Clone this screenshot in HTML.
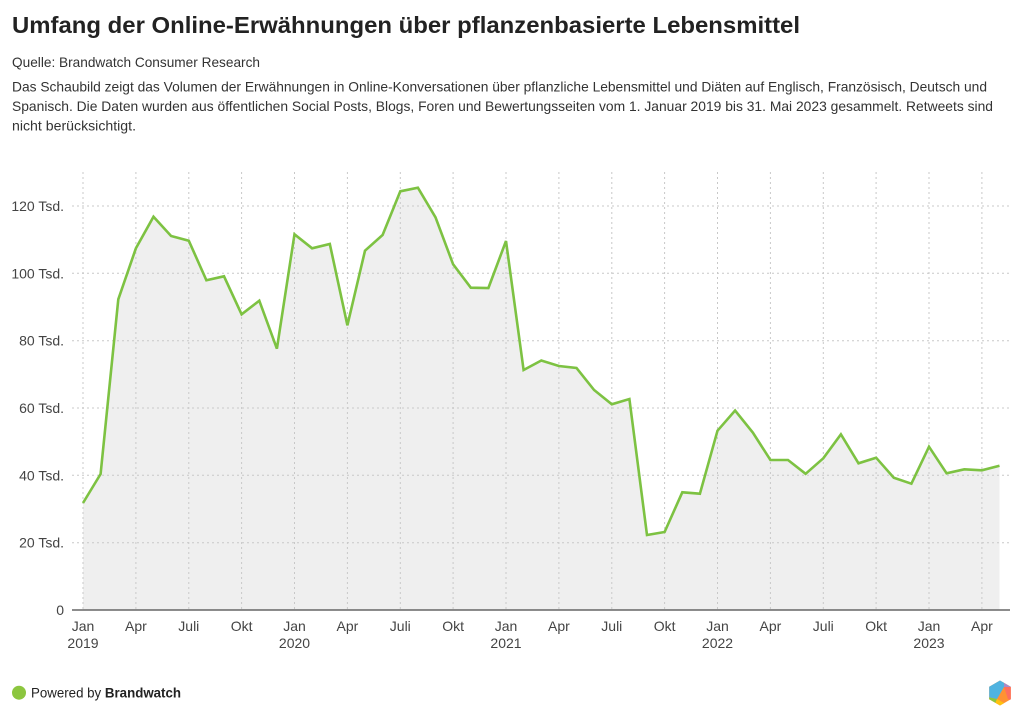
<!DOCTYPE html>
<html>
<head>
<meta charset="utf-8">
<style>
  html,body{margin:0;padding:0;background:#fff;}
  body{width:1024px;height:721px;overflow:hidden;}
  svg{display:block;font-family:"Liberation Sans", Arial, sans-serif;}
</style>
</head>
<body>
<svg width="1024" height="721" viewBox="0 0 1024 721" xmlns="http://www.w3.org/2000/svg">
  <rect width="1024" height="721" fill="#fff"/>
  <!-- Header -->
  <text x="12" y="33" font-size="23" font-weight="bold" fill="#222" textLength="788" lengthAdjust="spacingAndGlyphs">Umfang der Online-Erwähnungen über pflanzenbasierte Lebensmittel</text>
  <text x="12" y="67" font-size="14" fill="#333" textLength="248" lengthAdjust="spacingAndGlyphs">Quelle: Brandwatch Consumer Research</text>
  <text x="12" y="91.5" font-size="14" fill="#333" textLength="975" lengthAdjust="spacingAndGlyphs">Das Schaubild zeigt das Volumen der Erwähnungen in Online-Konversationen über pflanzliche Lebensmittel und Diäten auf Englisch, Französisch, Deutsch und</text>
  <text x="12" y="111" font-size="14" fill="#333" textLength="981" lengthAdjust="spacingAndGlyphs">Spanisch. Die Daten wurden aus öffentlichen Social Posts, Blogs, Foren und Bewertungsseiten vom 1. Januar 2019 bis 31. Mai 2023 gesammelt. Retweets sind</text>
  <text x="12" y="130.5" font-size="14" fill="#333" textLength="124" lengthAdjust="spacingAndGlyphs">nicht berücksichtigt.</text>

  <!-- Area fill -->
  <polygon fill="#efefef" points="83,610 83,503 100.6,474 118.3,299.3 135.9,248.3 153.5,216.7 171.1,236 188.8,240.7 206.4,280.3 224,276.3 241.6,314.3 259.3,300.7 276.9,348.7 294.5,234.3 312.1,248.3 329.8,244 347.4,325.3 365,250.7 382.6,235 400.3,191.3 417.9,187.7 435.5,217.3 453.1,264.3 470.8,287.7 488.4,288 506,241 523.6,370 541.3,360.5 558.9,366 576.5,368 594.1,390 611.8,404.3 629.4,399 647,535 664.6,532 682.3,492.3 699.9,493.7 717.5,430.7 735.1,410.5 752.8,432.5 770.4,460 788,460 805.6,473.8 823.3,458.3 840.9,434.3 858.5,463.3 876.1,457.7 893.8,477.7 911.4,483.7 929,446.7 946.6,473.3 964.3,469.3 981.9,470.3 999.5,465.7 999.5,610"/>

  <!-- Grid -->
  <g stroke="#c8c8c8" stroke-width="1" stroke-dasharray="2,3" fill="none">
    <line x1="72" y1="542.7" x2="1010" y2="542.7"/>
    <line x1="72" y1="475.3" x2="1010" y2="475.3"/>
    <line x1="72" y1="408" x2="1010" y2="408"/>
    <line x1="72" y1="340.7" x2="1010" y2="340.7"/>
    <line x1="72" y1="273.3" x2="1010" y2="273.3"/>
    <line x1="72" y1="206" x2="1010" y2="206"/>
    <line x1="83" y1="172" x2="83" y2="610"/>
    <line x1="135.9" y1="172" x2="135.9" y2="610"/>
    <line x1="188.8" y1="172" x2="188.8" y2="610"/>
    <line x1="241.6" y1="172" x2="241.6" y2="610"/>
    <line x1="294.5" y1="172" x2="294.5" y2="610"/>
    <line x1="347.4" y1="172" x2="347.4" y2="610"/>
    <line x1="400.3" y1="172" x2="400.3" y2="610"/>
    <line x1="453.1" y1="172" x2="453.1" y2="610"/>
    <line x1="506" y1="172" x2="506" y2="610"/>
    <line x1="558.9" y1="172" x2="558.9" y2="610"/>
    <line x1="611.8" y1="172" x2="611.8" y2="610"/>
    <line x1="664.6" y1="172" x2="664.6" y2="610"/>
    <line x1="717.5" y1="172" x2="717.5" y2="610"/>
    <line x1="770.4" y1="172" x2="770.4" y2="610"/>
    <line x1="823.3" y1="172" x2="823.3" y2="610"/>
    <line x1="876.1" y1="172" x2="876.1" y2="610"/>
    <line x1="929" y1="172" x2="929" y2="610"/>
    <line x1="981.9" y1="172" x2="981.9" y2="610"/>
  </g>

  <!-- Line -->
  <polyline fill="none" stroke="#7dc242" stroke-width="2.6" stroke-linejoin="miter" stroke-miterlimit="4" points="83,503 100.6,474 118.3,299.3 135.9,248.3 153.5,216.7 171.1,236 188.8,240.7 206.4,280.3 224,276.3 241.6,314.3 259.3,300.7 276.9,348.7 294.5,234.3 312.1,248.3 329.8,244 347.4,325.3 365,250.7 382.6,235 400.3,191.3 417.9,187.7 435.5,217.3 453.1,264.3 470.8,287.7 488.4,288 506,241 523.6,370 541.3,360.5 558.9,366 576.5,368 594.1,390 611.8,404.3 629.4,399 647,535 664.6,532 682.3,492.3 699.9,493.7 717.5,430.7 735.1,410.5 752.8,432.5 770.4,460 788,460 805.6,473.8 823.3,458.3 840.9,434.3 858.5,463.3 876.1,457.7 893.8,477.7 911.4,483.7 929,446.7 946.6,473.3 964.3,469.3 981.9,470.3 999.5,465.7"/>

  <!-- Axis line -->
  <line x1="72" y1="610" x2="1010" y2="610" stroke="#666" stroke-width="1.5"/>

  <!-- Y labels -->
  <g font-size="14" fill="#444" text-anchor="end">
    <text x="64" y="615">0</text>
    <text x="64" y="547.7">20 Tsd.</text>
    <text x="64" y="480.3">40 Tsd.</text>
    <text x="64" y="413">60 Tsd.</text>
    <text x="64" y="345.7">80 Tsd.</text>
    <text x="64" y="278.3">100 Tsd.</text>
    <text x="64" y="211">120 Tsd.</text>
  </g>

  <!-- X labels -->
  <g font-size="14" fill="#444" text-anchor="middle">
    <text x="83" y="631">Jan</text><text x="83" y="648">2019</text>
    <text x="135.9" y="631">Apr</text>
    <text x="188.8" y="631">Juli</text>
    <text x="241.6" y="631">Okt</text>
    <text x="294.5" y="631">Jan</text><text x="294.5" y="648">2020</text>
    <text x="347.4" y="631">Apr</text>
    <text x="400.3" y="631">Juli</text>
    <text x="453.1" y="631">Okt</text>
    <text x="506" y="631">Jan</text><text x="506" y="648">2021</text>
    <text x="558.9" y="631">Apr</text>
    <text x="611.8" y="631">Juli</text>
    <text x="664.6" y="631">Okt</text>
    <text x="717.5" y="631">Jan</text><text x="717.5" y="648">2022</text>
    <text x="770.4" y="631">Apr</text>
    <text x="823.3" y="631">Juli</text>
    <text x="876.1" y="631">Okt</text>
    <text x="929" y="631">Jan</text><text x="929" y="648">2023</text>
    <text x="981.9" y="631">Apr</text>
  </g>

  <!-- Footer -->
  <circle cx="19" cy="692.7" r="7" fill="#8cc63f"/>
  <text x="31" y="697.7" font-size="14" fill="#222" textLength="150" lengthAdjust="spacingAndGlyphs">Powered by <tspan font-weight="bold">Brandwatch</tspan></text>

  <!-- Logo -->
  <g transform="translate(1000,693)">
    <clipPath id="hex"><polygon points="0,-12.5 10.8,-6.25 10.8,6.25 0,12.5 -10.8,6.25 -10.8,-6.25"/></clipPath>
    <g clip-path="url(#hex)">
      <rect x="-13" y="-13" width="26" height="26" fill="#ff9233"/>
      <polygon points="-13,-13 4,-13 4,-6 -3,6 -13,4" fill="#4fb3e0"/>
      <polygon points="4,-13 13,-13 13,-6 4,-6" fill="#a98bc7"/>
      <polygon points="4,-6 13,-6 13,8 8,6" fill="#ff6f5e"/>
      <polygon points="-13,4 -3,6 -6,13 -13,13" fill="#8cc63f"/>
      <polygon points="-6,13 -3,6 4,10 3,13" fill="#ffc20e"/>
    </g>
  </g>
</svg>
</body>
</html>
